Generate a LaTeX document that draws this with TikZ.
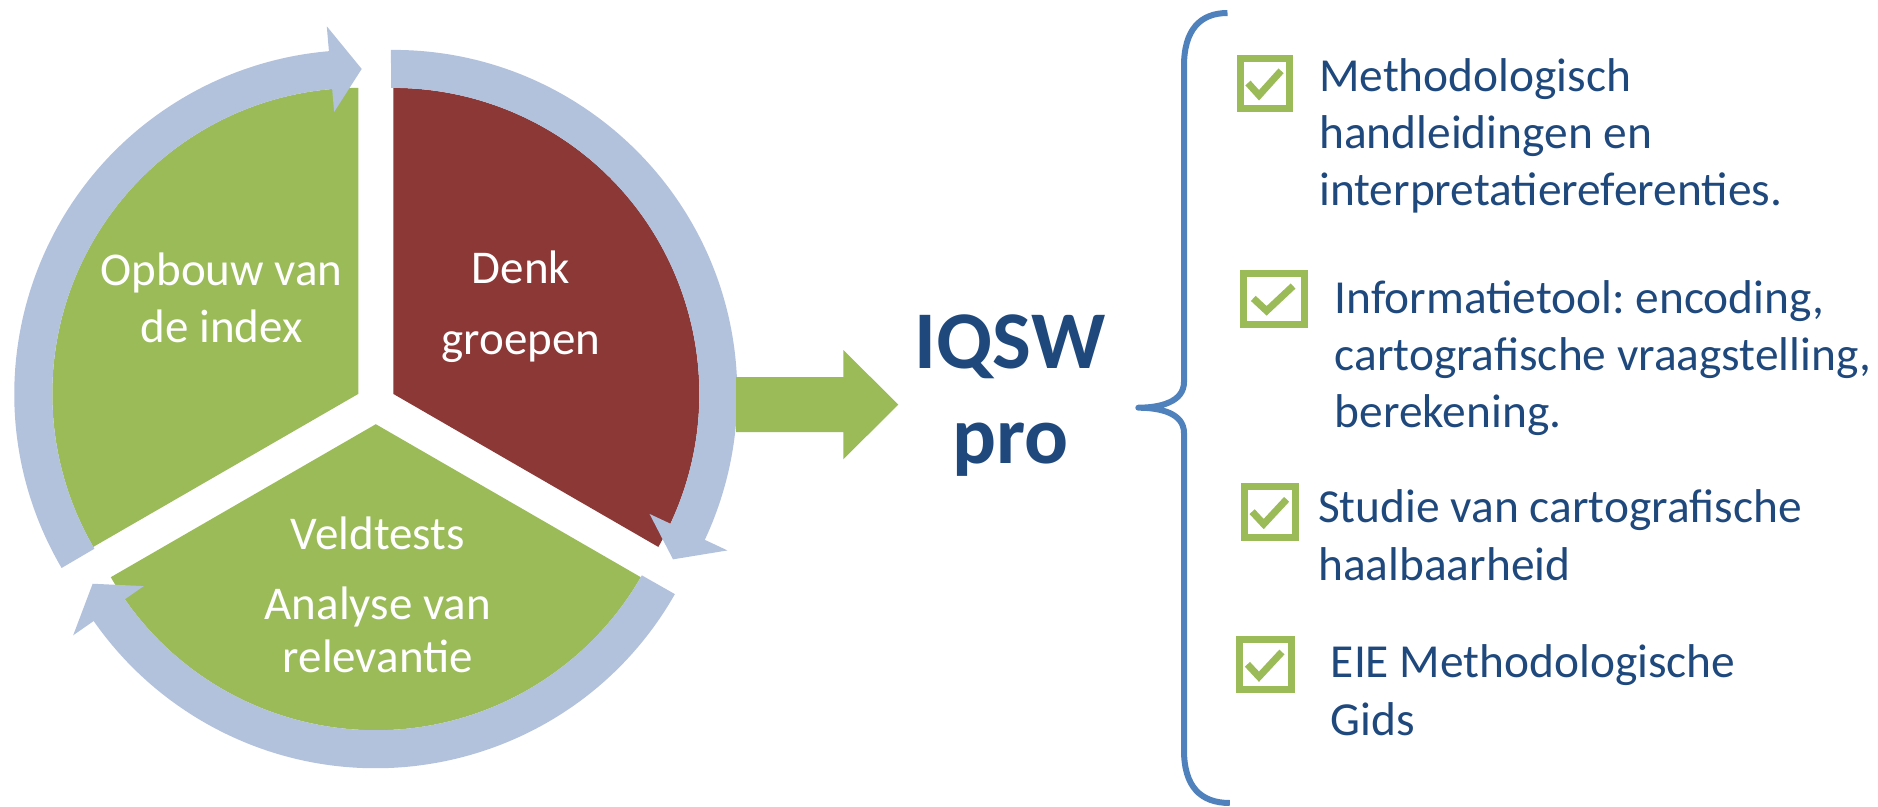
\documentclass[tikz,border=0pt]{standalone}
\usepackage{fontspec}
\setmainfont{Carlito}
\usetikzlibrary{calc}
\frenchspacing
\definecolor{ringblue}{RGB}{178,194,221}
\definecolor{leafgreen}{RGB}{155,187,89}
\definecolor{slicered}{RGB}{140,56,54}
\definecolor{textblue}{RGB}{31,73,125}
\definecolor{braceblue}{RGB}{79,129,189}
\newcommand{\ringarrow}[4]{%
\begin{scope}[shift={(#1)}]
\fill[ringblue] (#2:344) arc[start angle=#2, end angle=#3, radius=344] -- (#3:369) -- (#4:325) -- (#3:283) -- (#3:306) arc[start angle=#3, end angle=#2, radius=306] -- cycle;
\end{scope}}
\newcommand{\chkbox}[4]{%
\draw[cboxstyle] ({#1+3.5},{-#2-3.5}) rectangle ({#3-3.5},{-#4+3.5});
\draw[cmarkstyle] ({#1+0.196*(#3-#1)},{-#2-0.494*(#4-#2)}) -- ({#1+0.393*(#3-#1)},{-#2-0.71*(#4-#2)}) -- ({#1+0.784*(#3-#1)},{-#2-0.279*(#4-#2)});}
\begin{document}
\begin{tikzpicture}[x=1pt,y=1pt,
  slicetext/.style={text=white, font=\fontsize{47}{57}\selectfont\frenchspacing, inner sep=0pt, anchor=base},
  listtext/.style={text=textblue, font=\fontsize{47.4}{57}\selectfont\frenchspacing, inner sep=0pt, anchor=base west},
  titletext/.style={text=textblue, font=\fontsize{82}{98}\selectfont\bfseries, inner sep=0pt, anchor=base},
  cboxstyle/.style={draw=leafgreen, line width=7pt, fill=white},
  cmarkstyle/.style={draw=leafgreen, line width=7pt, line join=miter},
  bracestyle/.style={draw=braceblue, line width=6pt, line join=round}]
\useasboundingbox (0,0) rectangle (1878,-806);
% slices
\fill[leafgreen] (358.3,-393.9) -- ++(90:306) arc[start angle=90,end angle=210,radius=306] -- cycle;
\fill[slicered] (393.3,-393.9) -- ++(-30:306) arc[start angle=-30,end angle=90,radius=306] -- cycle;
\fill[leafgreen] (375.8,-424.2) -- ++(210:306) arc[start angle=210,end angle=330,radius=306] -- cycle;
% ring arrows
\ringarrow{358.3,-393.9}{210.4}{94.9}{89.4}
\ringarrow{393.3,-393.9}{90.4}{-25.1}{-30.6}
\ringarrow{375.8,-424.2}{330.4}{214.9}{209.4}
% slice texts
\node[slicetext] (op1) at (221.7,-285.6) {Opbouw van};
\node[slicetext] (op2) at (221.7,-342.5) {de index};
\node[slicetext] (dk1) at (521,-283) {Denk};
\node[slicetext] (dk2) at (521,-354) {groepen};
\node[slicetext] (vt1) at (377.8,-549) {Veldtests};
\node[slicetext] (vt2) at (377.8,-619.5) {Analyse van};
\node[slicetext] (vt3) at (377.8,-672) {relevantie};
% big arrow
\fill[leafgreen] (736,-377) -- (843.3,-377) -- (843.3,-350) -- (898.3,-404.6) -- (843.3,-459.3) -- (843.3,-432) -- (736,-432) -- cycle;
% title
\node[titletext] (iqsw) at (1010,-368.3) {IQSW};
\node[titletext] (pro) at (1010.5,-463) {pro};
% brace
\draw[bracestyle] (1227.5,-13) .. controls (1200,-13) and (1184,-30) .. (1184,-66) -- (1184,-382) .. controls (1184,-402) and (1160,-407.7) .. (1138.3,-407.7) .. controls (1160,-407.7) and (1184,-413) .. (1184,-433) -- (1184,-750) .. controls (1184,-786) and (1200,-803) .. (1229.8,-803);
% checkboxes
\chkbox{1236.9}{55}{1293.2}{111.7}
\chkbox{1240}{270}{1307.7}{327.5}
\chkbox{1240.6}{483.3}{1299.3}{540.7}
\chkbox{1235.9}{636}{1294.6}{693.3}
% list texts
\node[listtext] (m1) at (1319,-91) {Methodologisch};
\node[listtext] (m2) at (1319,-148) {handleidingen en};
\node[listtext] (m3) at (1319,-205) {interpretatiereferenties.};
\node[listtext] (i1) at (1334.5,-313) {Informatietool: encoding,};
\node[listtext] (i2) at (1334.5,-370) {cartografische vraagstelling,};
\node[listtext] (i3) at (1334.5,-427) {berekening.};
\node[listtext] (s1) at (1318,-522) {Studie van cartografische};
\node[listtext] (s2) at (1318,-580) {haalbaarheid};
\node[listtext] (e1) at (1330.7,-677) {EIE Methodologische};
\node[listtext] (e2) at (1330.7,-735) {Gids};
\end{tikzpicture}
\end{document}
